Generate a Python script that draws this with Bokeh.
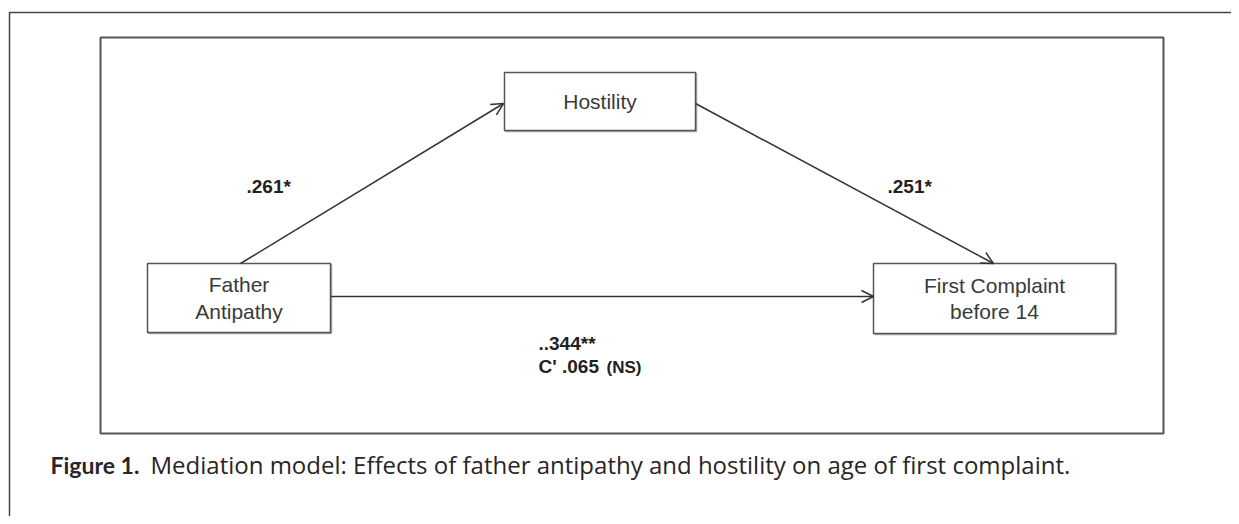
from bokeh.plotting import figure
from bokeh.models import Arrow, OpenHead, Range1d, Label
from bokeh.core.properties import value
from bokeh.embed import file_html
from bokeh.resources import INLINE

# ---- data ----
node_labels = ["Hostility", "Father\nAntipathy", "First Complaint\nbefore 14"]
path_a = ".261*"
path_b = ".251*"
path_c = "..344**"
path_c_prime = "C' .065"
path_c_prime_sig = "(NS)"
caption_bold = "Figure 1."
caption_text = "Mediation model: Effects of father antipathy and hostility on age of first complaint."

W, H = 1231, 516
p = figure(width=W, height=H, output_backend="svg", toolbar_location=None,
           x_range=Range1d(0, W), y_range=Range1d(H, 0),
           min_border=0, outline_line_color=None, background_fill_color="white")
p.axis.visible = False
p.grid.visible = False

# outer frame (top and left)
p.line([9, 9, 1260], [540, 12, 12], line_color="#444444", line_width=1.5)
# inner frame
p.quad(left=[100], right=[1163], top=[37], bottom=[433], fill_color=None,
       line_color="#555555", line_width=2)

# node boxes
bx_l = [504, 147, 873]
bx_r = [695, 330, 1115]
bx_t = [72, 263, 263]
bx_b = [130, 332, 333]
# soft shadow
p.quad(left=[v + 1 for v in bx_l], right=[v + 1 for v in bx_r], top=[v + 1 for v in bx_t],
       bottom=[v + 1 for v in bx_b], fill_color=None, line_color="#aaaaaa", line_width=1.5)
p.quad(left=bx_l, right=bx_r, top=bx_t, bottom=bx_b, fill_color="white",
       line_color="#555555", line_width=1.5)

font = value("Liberation Sans")
cx = [(l + r) / 2 for l, r in zip(bx_l, bx_r)]
cy = [(t + b) / 2 for t, b in zip(bx_t, bx_b)]
p.text(x=cx, y=cy, text=node_labels, text_font=font, text_font_size="21px",
       text_color="#3a3a3a", text_align="center", text_baseline="middle",
       text_line_height=1.15)

# arrows
head = dict(size=12, line_color="#333333", line_width=1.5)
p.add_layout(Arrow(end=OpenHead(**head), x_start=240, y_start=263, x_end=503, y_end=103,
                   line_color="#333333", line_width=1.5))
p.add_layout(Arrow(end=OpenHead(**head), x_start=695, y_start=103, x_end=993, y_end=263,
                   line_color="#333333", line_width=1.5))
p.add_layout(Arrow(end=OpenHead(**head), x_start=330, y_start=296, x_end=873, y_end=296,
                   line_color="#333333", line_width=1.5))

# coefficients
bold = dict(text_font=font, text_font_style="bold", text_color="#222222",
            text_baseline="middle", text_align="left")
p.text(x=[246, 887, 538], y=[186, 186, 343], text=[path_a, path_b, path_c],
       text_font_size="19px", **bold)
p.text(x=[538], y=[366], text=[path_c_prime], text_font_size="19px", **bold)
p.text(x=[606], y=[367], text=[path_c_prime_sig], text_font_size="17px", **bold)

# caption
p.add_layout(Label(x=50, y=464, x_units="data", y_units="data", text=caption_bold,
                   text_font="Lato", text_font_style="bold", text_font_size="23px",
                   text_color="#2a2426", text_baseline="middle"))
p.add_layout(Label(x=150, y=464, x_units="data", y_units="data", text=caption_text,
                   text_font="Open Sans", text_font_size="24px",
                   text_color="#2a2426", text_baseline="middle"))

open("out.html", "w").write(file_html(p, INLINE))
